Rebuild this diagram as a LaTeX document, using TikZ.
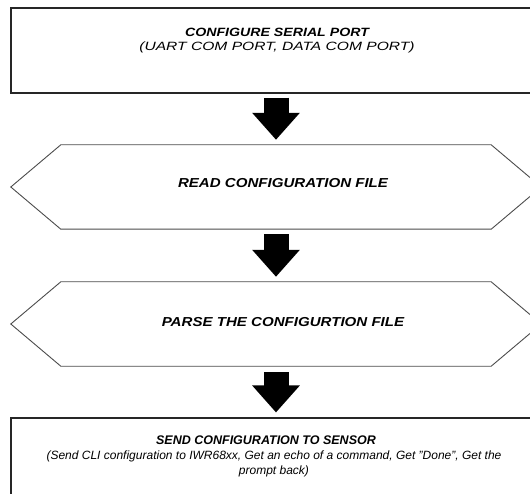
\documentclass[tikz,border=0pt]{standalone}
\usepackage{fontspec}
\setmainfont{Liberation Sans}
\usetikzlibrary{arrows.meta}
\tikzset{
  x=1pt, y=-1pt,
  boxline/.style={draw=black!85, line width=1.1pt},
  hexline/.style={draw=black!70, line width=0.9pt},
  blockarrow/.style={line width=25pt, black, -{Triangle[width=46pt,length=27pt]}},
  ttl/.style={font=\bfseries\itshape, inner sep=0pt},
  sub/.style={font=\itshape, inner sep=0pt}
}
\begin{document}
\begin{tikzpicture}
\useasboundingbox[fill=white] (0,0) rectangle (530,494);
% top box
\node[boxline, minimum width=530pt, minimum height=85pt, inner sep=0pt] (b1) at (276,50.5) {};
\node[ttl, font=\fontsize{12}{14}\selectfont\bfseries\itshape] (t1) at (277,32.5) {\scalebox{1.18}[1]{CONFIGURE SERIAL PORT}};
\node[sub, font=\fontsize{12}{14}\selectfont\itshape] (s1) at (277,47) {\scalebox{1.3}[1]{(UART COM PORT, DATA COM PORT)}};
% hexagon 1
\node[minimum width=530pt, minimum height=84pt, inner sep=0pt] (h1) at (276,187) {};
\draw[hexline] (h1.west) -- ([xshift=50pt]h1.north west) -- ([xshift=-50pt]h1.north east) -- (h1.east) -- ([xshift=-50pt]h1.south east) -- ([xshift=50pt]h1.south west) -- cycle;
\node[ttl, font=\fontsize{13}{15}\selectfont\bfseries\itshape] (t2) at (283,183) {\scalebox{1.16}[1]{READ CONFIGURATION FILE}};
% hexagon 2
\node[minimum width=530pt, minimum height=84pt, inner sep=0pt] (h2) at (276,324) {};
\draw[hexline] (h2.west) -- ([xshift=50pt]h2.north west) -- ([xshift=-50pt]h2.north east) -- (h2.east) -- ([xshift=-50pt]h2.south east) -- ([xshift=50pt]h2.south west) -- cycle;
\node[ttl, font=\fontsize{13}{15}\selectfont\bfseries\itshape] (t3) at (283,322) {\scalebox{1.16}[1]{PARSE THE CONFIGURTION FILE}};
% bottom box
\node[boxline, minimum width=530pt, minimum height=90pt, inner sep=0pt] (b2) at (276,463) {};
\node[ttl, font=\fontsize{12.5}{15}\selectfont\bfseries\itshape] (t4) at (266,440) {SEND CONFIGURATION TO SENSOR};
\node[sub, font=\fontsize{12}{15}\selectfont\itshape, align=center] (s4) at (274,464) {(Send CLI configuration to IWR68xx, Get an echo of a command, Get "Done", Get the\\prompt back)};
% arrows
\draw[blockarrow] ([yshift=-4pt]b1.south) -- ([yshift=5pt]h1.north);
\draw[blockarrow] ([yshift=-5pt]h1.south) -- ([yshift=5pt]h2.north);
\draw[blockarrow] ([yshift=-6pt]h2.south) -- ([yshift=5pt]b2.north);
\end{tikzpicture}
\end{document}
